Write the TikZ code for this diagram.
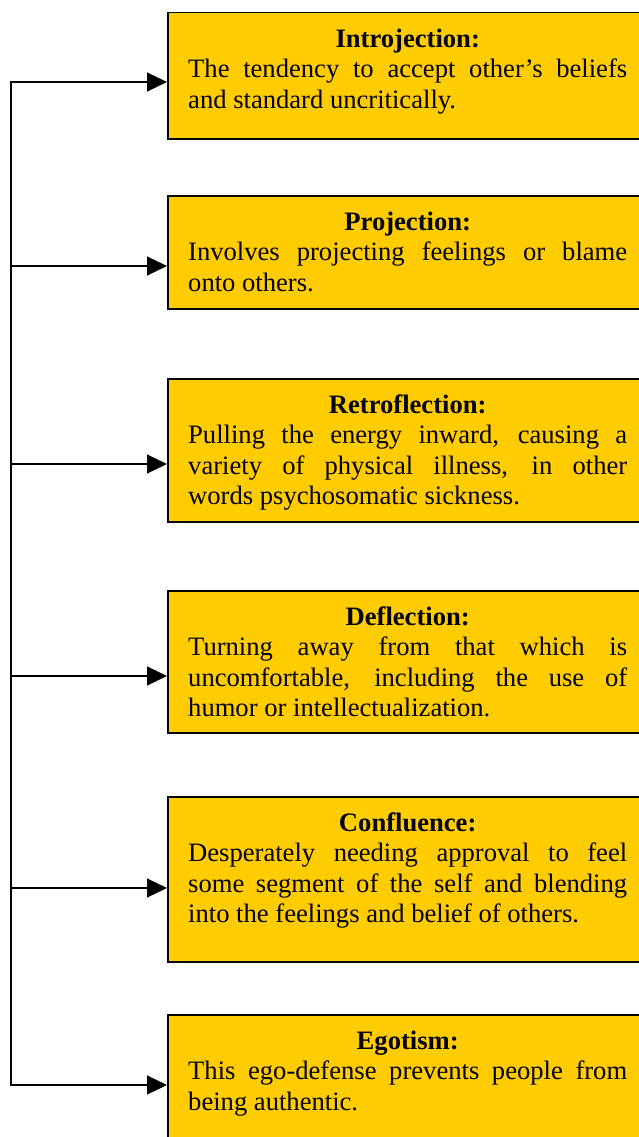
\documentclass[tikz,border=0pt]{standalone}
\usepackage{fontspec}
\setmainfont{Liberation Serif}
\usetikzlibrary{arrows.meta}
\definecolor{boxfill}{RGB}{255,204,0}
\tikzset{
  defbox/.style={draw=black, line width=1.5pt, fill=boxfill, rectangle,
    inner sep=0pt, minimum width=500pt, anchor=north west},
  deftext/.style={anchor=north west, inner sep=0pt, text width=439pt, align=justify,
    font=\fontsize{26.6pt}{30.5pt}\selectfont},
  feed/.style={line width=1.2pt, -{Triangle[length=20pt,width=19pt]}},
}
% centred bold heading line with a fixed 20pt height above its baseline
\newcommand{\boxtitle}[1]{\hyphenpenalty=10000\relax\tolerance=9999\relax
  {\centering\rule{0pt}{20pt}\textbf{#1}\par}}
\begin{document}
\begin{tikzpicture}[x=1pt, y=-1pt]
  \useasboundingbox (0,0) rectangle (639,1137);
  \clip (0,0) rectangle (639,1137);

  % boxes
  \node[defbox, minimum height=126pt] (b1) at (167,12) {};
  \node[defbox, minimum height=113pt] (b2) at (167,195) {};
  \node[defbox, minimum height=143pt] (b3) at (167,378) {};
  \node[defbox, minimum height=142pt] (b4) at (167,590) {};
  \node[defbox, minimum height=165pt] (b5) at (167,796) {};
  \node[defbox, minimum height=200pt] (b6) at (167,1014) {};

  % box texts
  \node[deftext] (x1) at (188,27) {\boxtitle{Introjection:}The tendency to accept other’s beliefs\linebreak and standard uncritically.};
  \node[deftext] (x2) at (188,210) {\boxtitle{Projection:}Involves projecting feelings or blame\linebreak onto others.};
  \node[deftext] (x3) at (188,393) {\boxtitle{Retroflection:}Pulling the energy inward, causing a\linebreak variety of physical illness, in other\linebreak words psychosomatic sickness.};
  \node[deftext] (x4) at (188,605) {\boxtitle{Deflection:}Turning away from that which is\linebreak uncomfortable, including the use of\linebreak humor or intellectualization.};
  \node[deftext] (x5) at (188,811) {\boxtitle{Confluence:}Desperately needing approval to feel\linebreak some segment of the self and blending\linebreak into the feelings and belief of others.};
  \node[deftext] (x6) at (188,1029) {\boxtitle{Egotism:}This ego-defense prevents people from\linebreak being authentic.};

  % trunk and feeds
  \coordinate (t1) at (11,82);
  \coordinate (t2) at (11,266);
  \coordinate (t3) at (11,464);
  \coordinate (t4) at (11,676);
  \coordinate (t5) at (11,888);
  \coordinate (t6) at (11,1085);

  \draw[feed, line cap=rect] (t6) -- (t1) -- (t1 -| b1.west);
  \draw[feed] (t2) -- (t2 -| b2.west);
  \draw[feed] (t3) -- (t3 -| b3.west);
  \draw[feed] (t4) -- (t4 -| b4.west);
  \draw[feed] (t5) -- (t5 -| b5.west);
  \draw[feed, line cap=rect] (t6) -- (t6 -| b6.west);
\end{tikzpicture}
\end{document}
